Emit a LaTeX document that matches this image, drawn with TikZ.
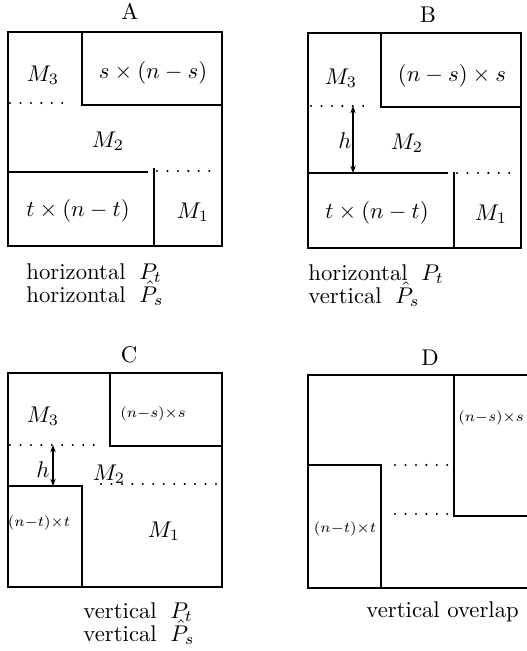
\documentclass[tikz,border=0pt]{standalone}
\usetikzlibrary{arrows.meta}
\newcommand\mycapfont{\fontsize{10}{10.1}\selectfont\lineskiplimit=-20pt\relax\lineskip=0pt\relax}
\newcommand\capgap{\hspace{0.6em}}
\begin{document}
\begin{tikzpicture}[x=0.44pt,y=-0.44pt,
  edge/.style={line width=0.55pt},
  dotline/.style={line width=1pt,line cap=round,dash pattern=on 0pt off 4.6pt},
  harrow/.style={line width=0.45pt,{Stealth[length=3.2pt,width=2.4pt]}-{Stealth[length=3.2pt,width=2.4pt]}},
  lbl/.style={inner sep=0pt,anchor=center},
  captext/.style={inner sep=0pt,anchor=north west,align=left,font={\mycapfont}},
  ttl/.style={inner sep=0pt,anchor=base},
  smallm/.style={inner sep=0pt,anchor=center,font=\scriptsize,scale=0.92,transform shape}]
\useasboundingbox (0,0) rectangle (527,651);
\clip (0,0) rectangle (527,651);
% ---------- Panel A ----------
\node[ttl] (tA) at (130,20) {A};
\draw[edge] (8,32) rectangle (222,246);
\draw[edge] (82,32) -- (82,105) -- (222,105);
\draw[dotline] (10,103) -- (66,103);
\draw[edge] (8,172) -- (148,172);
\draw[edge] (154,168) -- (154,246);
\draw[dotline] (157,171) -- (211,171);
\node[lbl] (a3) at (43,75) {$M_3$};
\node[lbl] (as) at (153,73) {$s\times(n-s)$};
\node[lbl] (a2) at (108,141) {$M_2$};
\node[lbl] (at) at (78,211) {$t\times(n-t)$};
\node[lbl] (a1) at (193,212) {$M_1$};
\node[captext] (ca) at (26,263.2) {horizontal\capgap$P_t$\\horizontal\capgap$\hat P_s$};
% ---------- Panel B ----------
\node[ttl] (tB) at (428,23) {B};
\draw[edge] (308,33) rectangle (521,248);
\draw[edge] (381,33) -- (381,107) -- (521,107);
\draw[dotline] (311,106) -- (366,106);
\coordinate (bh1) at (353,106);
\coordinate (bh2) at (353,173);
\draw[harrow] (bh1) -- (bh2);
\node[lbl] (bh) at (345,141) {$h$};
\draw[edge] (308,173) -- (448,173);
\draw[edge] (454,172) -- (454,248);
\draw[dotline] (457,173) -- (511,173);
\node[lbl] (b3) at (341,78) {$M_3$};
\node[lbl] (bs) at (452,76) {$(n-s)\times s$};
\node[lbl] (b2) at (407,143) {$M_2$};
\node[lbl] (bt) at (377,213) {$t\times(n-t)$};
\node[lbl] (b1) at (491,214) {$M_1$};
\node[captext] (cb) at (308,264.2) {horizontal\capgap$P_t$\\vertical\capgap$\hat P_s$};
% ---------- Panel C ----------
\node[ttl] (tC) at (129,362) {C};
\draw[edge] (8,373) rectangle (222,587);
\draw[edge] (110,373) -- (110,446) -- (222,446);
\draw[dotline] (10,445) -- (98,445);
\coordinate (ch1) at (53,445);
\coordinate (ch2) at (53,486);
\draw[harrow] (ch1) -- (ch2);
\node[lbl] (ch) at (43,470) {$h$};
\draw[edge] (8,486) -- (82,486) -- (82,587);
\draw[dotline] (101,484) -- (217,484);
\node[lbl] (c3) at (43,416) {$M_3$};
\node[smallm] (cs) at (153,414) {$(n{-}s){\times}s$};
\node[lbl] (c2) at (109,474) {$M_2$};
\node[smallm] (ct) at (39,523) {$(n{-}t){\times}t$};
\node[lbl] (c1) at (164,531) {$M_1$};
\node[captext] (cc) at (83,602.2) {vertical\capgap$P_t$\\vertical\capgap$\hat P_s$};
% ---------- Panel D ----------
\node[ttl] (tD) at (430,365) {D};
\draw[edge] (545,375) -- (308,375) -- (308,588) -- (545,588);
\draw[edge] (454,375) -- (454,516) -- (545,516);
\draw[edge] (308,465) -- (381,465) -- (381,588);
\draw[dotline] (395,465) -- (449,465);
\draw[dotline] (395,514) -- (449,514);
\node[smallm] (ds) at (491,418) {$(n{-}s){\times}s$};
\node[smallm] (dt) at (345,529) {$(n{-}t){\times}t$};
\node[ttl,anchor=base west] (cd) at (366,617) {vertical overlap};
\end{tikzpicture}
\end{document}
